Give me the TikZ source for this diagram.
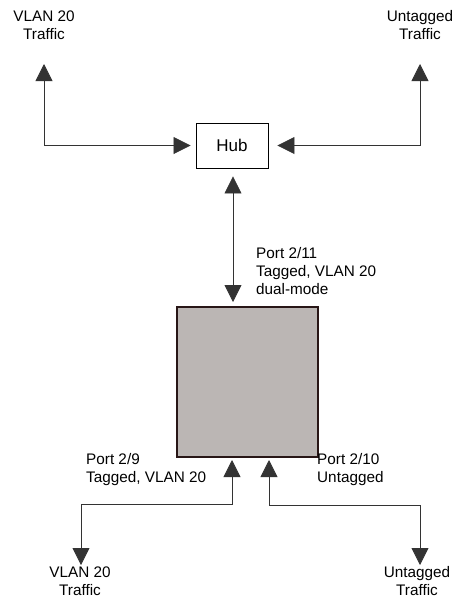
\documentclass[tikz,border=0pt]{standalone}
\usepackage{fontspec}
\setmainfont{Liberation Sans}
\usetikzlibrary{arrows.meta, positioning}
\definecolor{swgray}{RGB}{187,182,180}
\definecolor{swedge}{RGB}{40,22,22}

\begin{document}
\begin{tikzpicture}[x=1pt, y=-1pt, font=\fontsize{15.3}{18}\selectfont,
    hub style/.style={draw=black, line width=0.9pt, minimum width=72pt, minimum height=45pt, inner sep=0pt, font=\fontsize{17}{20}\selectfont},
    switch style/.style={draw=swedge, fill=swgray, line width=1.6pt, minimum width=141pt, minimum height=150pt, inner sep=0pt},
    traffic label/.style={align=center, inner sep=0pt},
    port label/.style={align=left, anchor=north west, inner sep=0pt},
    link/.style={black!80, line width=0.8pt, {Triangle[width=17pt, length=17pt]}-{Triangle[width=17pt, length=17pt]}}]

    \useasboundingbox (0,0) rectangle (457,600);

    % =========================================================================
    % Hub y switch
    % =========================================================================
    \node[hub style] (hub) at (232,145.5) {Hub};
    \node[switch style] (switch) at (247.5,382) {};

    % Etiquetas de trafico
    \node[traffic label] (vlanTop) at (44,25) {VLAN 20\\Traffic};
    \node[traffic label] (untagTop) at (420,25) {Untagged\\Traffic};
    \node[traffic label] (vlanBot) at (80,581) {VLAN 20\\Traffic};
    \node[traffic label] (untagBot) at (417,581) {Untagged\\Traffic};

    % Etiquetas de puertos
    \node[port label] (p11) at (256,247) {Port 2/11\\Tagged, VLAN 20\\dual-mode};
    \node[port label] (p9) at (86,453) {Port 2/9\\Tagged, VLAN 20};
    \node[port label] (p10) at (317,453) {Port 2/10\\Untagged};

    % Puntas de flecha
    \coordinate (tl) at (44,64);
    \coordinate (tr) at (420,64);
    \coordinate (sw11) at (233,302);
    \coordinate (sw9) at (232,460);
    \coordinate (sw10) at (269,460);
    \coordinate (bl) at (81,565);
    \coordinate (br) at (420,565);

    % =========================================================================
    % Conexiones
    % =========================================================================
    \draw[link, shorten >=5pt] (tl) |- (hub.west);
    \draw[link, shorten >=9pt] (tr) |- (hub.east);
    \draw[link, shorten <=8pt] (hub.south -| sw11) -- (sw11);
    \draw[link] (sw9) -- (232,504) -| (bl);
    \draw[link] (sw10) -- (269,505) -| (br);

\end{tikzpicture}
\end{document}
